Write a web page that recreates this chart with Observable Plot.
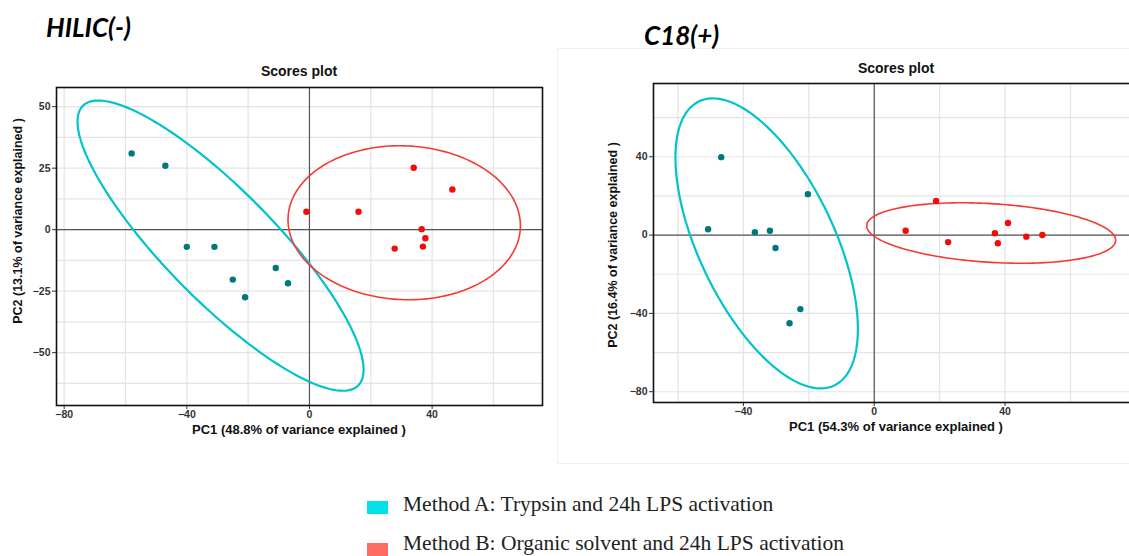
<!DOCTYPE html>
<html>
<head>
<meta charset="utf-8">
<script src="https://cdn.jsdelivr.net/npm/d3@7"></script>
<script src="https://cdn.jsdelivr.net/npm/@observablehq/plot@0.6"></script>
<style>
  html, body { margin: 0; padding: 0; background: #fff; }
  body { width: 1129px; height: 556px; overflow: hidden; position: relative; font-family: "Liberation Sans", Arial, sans-serif; }
  .abs { position: absolute; white-space: nowrap; }
  .title { font-family: Lato, "Open Sans", sans-serif; font-weight: bold; font-style: italic; font-size: 26px; line-height: 1; color: #000; }
  .sp { font-weight: bold; font-size: 14px; color: #111; transform: translateX(-50%); }
  .xl { font-weight: bold; font-size: 13px; color: #111; transform: translateX(-50%); }
  .yl { font-weight: bold; font-size: 12.5px; color: #111; transform: translate(-50%, -50%) rotate(-90deg); }
  .leg { font-family: "Liberation Serif", "DejaVu Serif", serif; font-size: 21.5px; line-height: 1; color: #222; }
  .sq { position: absolute; width: 21px; height: 13px; }
  #left svg, #right svg { max-width: none !important; display: block; }
</style>
</head>
<body>
<div id="boxR" class="abs" style="left:557px;top:48px;width:580px;height:414px;border:1px solid #efefef;"></div>
<div id="left" class="abs" style="left:0;top:0;width:560px;"></div>
<div id="right" class="abs" style="left:560px;top:0;width:620px;"></div>

<div class="abs title" style="left:46px;top:14px;">HILIC(-)</div>
<div class="abs title" style="left:644px;top:22px;">C18(+)</div>
<div class="abs sp" style="left:299px;top:63px;">Scores plot</div>
<div class="abs sp" style="left:896px;top:60px;">Scores plot</div>
<div class="abs xl" style="left:299px;top:422px;">PC1 (48.8% of variance explained )</div>
<div class="abs xl" style="left:896px;top:419px;">PC1 (54.3% of variance explained )</div>
<div class="abs yl" style="left:18px;top:221px;">PC2 (13.1% of variance explained )</div>
<div class="abs yl" style="left:613px;top:245px;">PC2 (16.4% of variance explained )</div>

<div class="sq" style="left:367px;top:501px;background:#00e1e8;"></div>
<div class="abs leg" style="left:403px;top:494px;">Method A: Trypsin and 24h LPS activation</div>
<div class="sq" style="left:367px;top:543px;background:#ff6b61;"></div>
<div class="abs leg" style="left:403px;top:533px;">Method B: Organic solvent and 24h LPS activation</div>

<script>
// ---------- Data: HILIC(-) ----------
const hilicA_PC1 = [-58, -47, -40, -31, -25, -21, -11, -7];
const hilicA_PC2 = [31, 26, -7, -7, -20.3, -27.5, -15.6, -21.8];
const hilicB_PC1 = [-1, 16, 34, 46.6, 36.6, 37.8, 37, 27.8];
const hilicB_PC2 = [7.3, 7.3, 25.2, 16.3, 0.2, -3.5, -6.9, -7.7];
// ---------- Data: C18(+) ----------
const c18A_PC1 = [-46.8, -20.3, -50.8, -36.5, -31.9, -30.2, -22.6, -25.9];
const c18A_PC2 = [39.8, 20.9, 3, 1.5, 2.2, -6.6, -37.8, -45];
const c18B_PC1 = [18.9, 9.6, 22.6, 36.9, 37.8, 40.9, 46.5, 51.4];
const c18B_PC2 = [17.4, 2.2, -3.6, 0.9, -4.2, 6.2, -0.8, 0];
// ---------- Confidence ellipses: centre and covariance (sxx, syy, sxy) ----------
const hilicA_ell = {cx: -29, cy: -6.5, sxx: 2176, syy: 3481, sxy: -2352};
const hilicB_ell = {cx: 30.9, cy: 2.8, sxx: 1436, syy: 980, sxy: -45};
const c18A_ell = {cx: -32.9, cy: -4.25, sxx: 778, syy: 5483, sxy: -1220};
const c18B_ell = {cx: 35.75, cy: 1.05, sxx: 1448, syy: 238.7, sxy: -140};
// ---------- Ticks ----------
const hilicXTicks = [-80, -40, 0, 40];
const hilicYTicks = [-50, -25, 0, 25, 50];
const hilicXGrid = [-80, -60, -40, -20, 0, 20, 40, 60];
const hilicYGrid = [-62.5, -50, -37.5, -25, -12.5, 0, 12.5, 25, 37.5, 50];
const c18XTicks = [-40, 0, 40];
const c18YTicks = [-80, -40, 0, 40];
const c18XGrid = [-60, -40, -20, 0, 20, 40, 60, 80];
const c18YGrid = [-80, -60, -40, -20, 0, 20, 40, 60];

const colA_pt = "#00787c", colB_pt = "#f50a0a";
const colA_ell = "#00c4cc", colB_ell = "#f53a35";

function pts(xs, ys) { return xs.map((x, i) => ({x, y: ys[i]})); }
function ellipse(e) {
  const a = Math.sqrt(e.sxx), c = e.sxy / a, d = Math.sqrt(e.syy - c * c);
  return d3.range(0, 201).map(i => {
    const t = i / 200 * 2 * Math.PI;
    return {x: e.cx + a * Math.cos(t), y: e.cy + c * Math.cos(t) + d * Math.sin(t)};
  });
}

function panel(o) {
  return Plot.plot({
    width: o.width, height: 450,
    marginLeft: o.ml, marginRight: o.mr, marginTop: o.mt, marginBottom: o.mb,
    x: {domain: o.xd},
    y: {domain: o.yd},
    style: {fontFamily: "'Liberation Sans', Arial, sans-serif", background: "transparent", overflow: "visible", maxWidth: "none"},
    marks: [
      Plot.gridX(o.xg, {stroke: "#e4e4e4", strokeOpacity: 1, strokeWidth: 1.2}),
      Plot.gridY(o.yg, {stroke: "#e4e4e4", strokeOpacity: 1, strokeWidth: 1.2}),
      Plot.ruleX([0], {stroke: "#555", strokeWidth: 1.2}),
      Plot.ruleY([0], {stroke: "#555", strokeWidth: 1.2}),
      Plot.line(ellipse(o.eA), {x: "x", y: "y", stroke: colA_ell, strokeWidth: 2.2}),
      Plot.line(ellipse(o.eB), {x: "x", y: "y", stroke: colB_ell, strokeWidth: 1.6}),
      Plot.dot(o.A, {x: "x", y: "y", r: 3.2, fill: colA_pt, stroke: "none"}),
      Plot.dot(o.B, {x: "x", y: "y", r: 3.2, fill: colB_pt, stroke: "none"}),
      Plot.axisX(o.xt, {label: null, tickSize: 4, tickPadding: 1, fontSize: 10.5, fontWeight: "bold", fill: "#333", stroke: "#333"}),
      Plot.axisY(o.yt, {label: null, tickSize: 4, tickPadding: 2, fontSize: 10.5, fontWeight: "bold", fill: "#333", stroke: "#333"}),
      Plot.frame({stroke: "#111", strokeWidth: 1.6})
    ]
  });
}

document.getElementById("left").appendChild(panel({
  width: 560, ml: 56, mr: 18, mt: 87, mb: 45,
  xd: [-82.5, 76], yd: [-71.5, 57.8],
  xt: hilicXTicks, yt: hilicYTicks, xg: hilicXGrid, yg: hilicYGrid,
  eA: hilicA_ell, eB: hilicB_ell,
  A: pts(hilicA_PC1, hilicA_PC2), B: pts(hilicB_PC1, hilicB_PC2)
}));
document.getElementById("right").appendChild(panel({
  width: 620, ml: 93, mr: 42, mt: 83, mb: 48,
  xd: [-67.5, 80.8], yd: [-85.5, 77.4],
  xt: c18XTicks, yt: c18YTicks, xg: c18XGrid, yg: c18YGrid,
  eA: c18A_ell, eB: c18B_ell,
  A: pts(c18A_PC1, c18A_PC2), B: pts(c18B_PC1, c18B_PC2)
}));
</script>
</body>
</html>
